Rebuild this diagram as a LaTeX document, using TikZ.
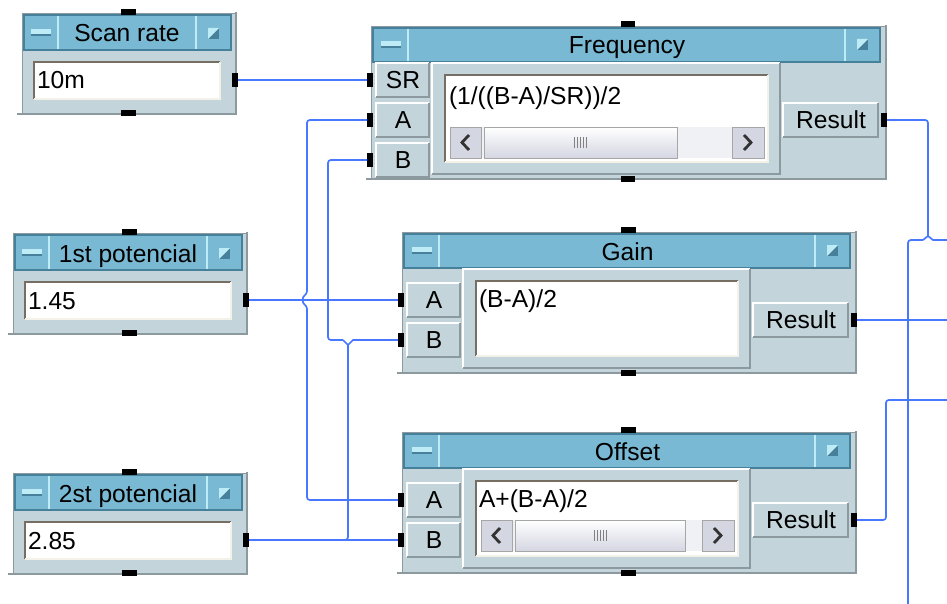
\documentclass[tikz,border=0pt]{standalone}
\usepackage{fontspec}
\setmainfont{Liberation Sans}
\usepackage{tikz}

\definecolor{titlecol}{RGB}{121,185,211}
\definecolor{titlelight}{RGB}{190,236,246}
\definecolor{titledark}{RGB}{70,128,154}
\definecolor{bodycol}{RGB}{196,212,219}
\definecolor{edgecol}{RGB}{140,153,159}
\definecolor{sunkdark}{RGB}{118,110,98}
\definecolor{sunklight}{RGB}{244,242,232}
\definecolor{wirecol}{RGB}{72,120,255}
\definecolor{btncol}{RGB}{212,214,226}
\definecolor{troughcol}{RGB}{240,241,245}

\begin{document}
\begin{tikzpicture}[
    x=0.025cm, y=-0.025cm,
    every node/.style={font=\fontsize{17.5}{20}\selectfont, inner sep=0pt, outer sep=0pt},
    veeframe/.style={fill=bodycol, draw=edgecol, line width=0.6pt},
    edgeline/.style={draw=edgecol, line width=1.6pt},
    titlebar/.style={fill=titlecol, draw=titledark, line width=0.8pt},
    btnsep/.style={draw=titlelight, line width=0.9pt},
    hilite/.style={draw=white, line width=0.9pt},
    lolite/.style={draw=edgecol, line width=0.9pt},
    sunk/.style={draw=sunkdark, line width=1.3pt},
    sunkl/.style={draw=sunklight, line width=1pt},
    port/.style={fill=black, minimum width=0.15cm, minimum height=0.35cm},
    seqpin/.style={fill=black, minimum width=0.36cm, minimum height=0.14cm},
    ttl/.style={anchor=base},
    val/.style={anchor=base west},
    wire/.style={draw=wirecol, line width=1.2pt, rounded corners=2pt},
    scrollbtn/.style={fill=btncol, draw=gray!70, line width=0.5pt},
    chevron/.style={draw=black!80, line width=2pt},
]
\useasboundingbox (0,0) rectangle (947,604);

% constant boxes
\foreach \n/\xa/\xb/\ya/\ttl/\vv in {scan/22/235/13/Scan rate/10m,
    pot1/13/246/233/1st potencial/1.45, pot2/13/246/473/2st potencial/2.85}{
  \draw[veeframe] (\xa,\ya) rectangle (\xb,\ya+100);
  \draw[edgeline] (\xa-5,\ya+101) -- (\xb+1,\ya+101) -- (\xb+1,\ya-1);
  \draw[titlebar] (\xa+2,\ya+2) rectangle (\xb-4,\ya+37);
  \draw[btnsep] (\xa+36,\ya+3) -- (\xa+36,\ya+36) (\xb-39,\ya+3) -- (\xb-39,\ya+36);
  \fill[titlelight] (\xa+9,\ya+16) rectangle (\xa+29,\ya+21);
  \fill[titledark] (\xa+9,\ya+21) rectangle (\xa+29,\ya+23);
  \fill[titledark] (\xb-27,\ya+15) rectangle (\xb-16,\ya+26);
  \fill[titlelight] (\xb-27,\ya+15) -- (\xb-16,\ya+15) -- (\xb-27,\ya+26) -- cycle;
  \node[ttl] (\n-title) at ({(\xa+\xb)/2-1.5},\ya+29) {\ttl};
  \fill[white] (\xa+12,\ya+49) rectangle (\xb-15,\ya+86);
  \draw[sunk] (\xa+12,\ya+86) -- (\xa+12,\ya+49) -- (\xb-15,\ya+49);
  \draw[sunkl] (\xa+12,\ya+86) -- (\xb-15,\ya+86) -- (\xb-15,\ya+49);
  \node[val] (\n-val) at (\xa+15,\ya+76) {\vv};
  \node[port] (\n-out) at (\xb,\ya+67) {};
  \node[seqpin] (\n-top) at ({(\xa+\xb)/2},\ya-1) {};
  \node[seqpin] (\n-bot) at ({(\xa+\xb)/2},\ya+100) {};
}

% formula boxes
\foreach \n/\xa/\xb/\ya/\yb/\ttl/\ry in {freq/371/885/26/178/Frequency/120,
    gain/402/855/232/372/Gain/320, offs/402/855/432/572/Offset/520}{
  \draw[veeframe] (\xa,\ya) rectangle (\xb,\yb);
  \draw[edgeline] (\xa-5,\yb+1) -- (\xb+1,\yb+1) -- (\xb+1,\ya-1);
  \draw[titlebar] (\xa+2,\ya+2) rectangle (\xb-5,\ya+36);
  \draw[btnsep] (\xa+37,\ya+3) -- (\xa+37,\ya+35) (\xb-40,\ya+3) -- (\xb-40,\ya+35);
  \fill[titlelight] (\xa+10,\ya+15) rectangle (\xa+30,\ya+20);
  \fill[titledark] (\xa+10,\ya+20) rectangle (\xa+30,\ya+22);
  \fill[titledark] (\xb-28,\ya+13) rectangle (\xb-17,\ya+24);
  \fill[titlelight] (\xb-28,\ya+13) -- (\xb-17,\ya+13) -- (\xb-28,\ya+24) -- cycle;
  \node[ttl] (\n-title) at ({(\xa+\xb)/2-1},\ya+28) {\ttl};
  \draw[hilite] (\xa+61,\yb-4) -- (\xa+61,\ya+37) -- (\xb-105,\ya+37);
  \draw[lolite] (\xa+61,\yb-4) -- (\xb-105,\yb-4) -- (\xb-105,\ya+37);
  \fill[white] (\xa+74,\ya+49) rectangle (\xb-117,\yb-16);
  \draw[sunk] (\xa+74,\yb-16) -- (\xa+74,\ya+49) -- (\xb-117,\ya+49);
  \draw[sunkl] (\xa+74,\yb-16) -- (\xb-117,\yb-16) -- (\xb-117,\ya+49);
  \draw[hilite] (\xb-102,\ry+17) -- (\xb-102,\ry-17) -- (\xb-7,\ry-17);
  \draw[lolite] (\xb-102,\ry+17) -- (\xb-7,\ry+17) -- (\xb-7,\ry-17);
  \node (\n-reslbl) at (\xb-54,\ry) {Result};
  \node[port] (\n-res) at (\xb-1,\ry) {};
  \node[seqpin] (\n-top) at ({(\xa+\xb)/2},\ya-2) {};
  \node[seqpin] (\n-bot) at ({(\xa+\xb)/2},\yb+1) {};
}

% input terminals
\foreach \n/\xa/\p/\y in {freq/371/SR/80, freq/371/A/120, freq/371/B/160,
    gain/402/A/300, gain/402/B/340, offs/402/A/500, offs/402/B/540}{
  \draw[hilite] (\xa+5,\y+17) -- (\xa+5,\y-17) -- (\xa+58,\y-17);
  \draw[lolite] (\xa+5,\y+17) -- (\xa+58,\y+17) -- (\xa+58,\y-17);
  \node (\n-lbl\p) at (\xa+32,\y) {\p};
  \node[port] (\n-in\p) at (\xa-1,\y) {};
}

% scroll bars
\foreach \xa/\ya/\xt/\xb in {450/127/677/764, 481/520/685/734}{
  \fill[troughcol] (\xa,\ya) rectangle (\xb,\ya+31);
  \draw[scrollbtn] (\xa,\ya) rectangle (\xa+31,\ya+31);
  \draw[scrollbtn] (\xb-32,\ya) rectangle (\xb,\ya+31);
  \draw[scrollbtn, top color=white, bottom color=btncol] (\xa+34,\ya) rectangle (\xt,\ya+31);
  \draw[chevron] (\xa+19,\ya+8) -- (\xa+12,\ya+15.5) -- (\xa+19,\ya+23);
  \draw[chevron] (\xb-20,\ya+8) -- (\xb-13,\ya+15.5) -- (\xb-20,\ya+23);
  \foreach \g in {-6,-3,0,3,6}
    \draw[gray, line width=0.4pt] ({(\xa+34+\xt)/2+\g},\ya+10) -- ++(0,11);
}

\node[val] (freq-expr) at (449,104) {(1/((B-A)/SR))/2};
\node[val] (gain-expr) at (479,307) {(B-A)/2};
\node[val] (offs-expr) at (479,507) {A+(B-A)/2};

% wiring
\coordinate (j1a) at (307,294);
\coordinate (j1b) at (307,306);
\coordinate (j2) at (328,340);
\coordinate (j3l) at (343,340);
\coordinate (j3) at (348,345);
\coordinate (j3r) at (353,340);
\coordinate (j4l) at (923,240);
\coordinate (j4) at (928,236);
\coordinate (j4r) at (933,240);
\coordinate (k1) at (886,400);
\coordinate (eFreq) at (947,240);
\coordinate (eGain) at (947,320);
\coordinate (eOffs) at (947,400);
\coordinate (eBot) at (908,604);

\draw[wire] (scan-out.east) -- (freq-inSR.west);
\draw[wire] (pot1-out.east) -- (gain-inA.west);
\draw[wire] (pot2-out.east) -- (offs-inB.west);
\draw[wire] (freq-inA.west) -| (j1a) .. controls +(-5,3) and +(-5,-3) .. (j1b) |- (offs-inA.west);
\draw[wire] (freq-inB.west) -| (j2) -- (j3l);
\draw[wire, sharp corners] (j3l) -- (j3) -- (j3r) -- (gain-inB.west);
\draw[wire] (j3) |- (pot2-out.east);
\draw[wire] (freq-res.east) -| (j4);
\draw[wire, sharp corners] (j4l) -- (j4) -- (j4r) -- (eFreq);
\draw[wire] (j4l) -| (eBot);
\draw[wire] (gain-res.east) -- (eGain);
\draw[wire] (offs-res.east) -| (k1) -- (eOffs);
\end{tikzpicture}
\end{document}
